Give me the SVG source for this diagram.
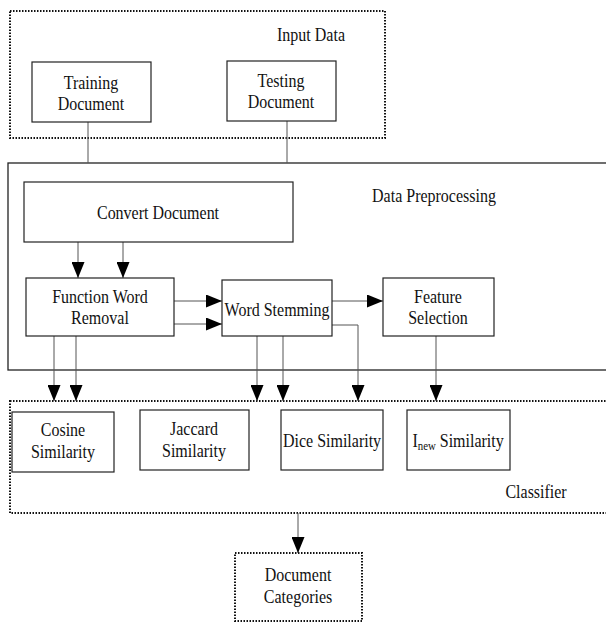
<svg xmlns="http://www.w3.org/2000/svg" width="606" height="623" viewBox="0 0 606 623">
  <style>
    text { font-family: "Liberation Serif", "Times New Roman", serif; font-size: 18.5px; fill: #111; text-anchor: middle; }
    .box { fill: #fff; stroke: #222; stroke-width: 1.2; }
    .frame { fill: none; stroke: #222; stroke-width: 1.3; }
    .dot { fill: none; stroke: #111; stroke-width: 2; stroke-dasharray: 1.5 1.5; }
    .link { fill: none; stroke: #555; stroke-width: 1; }
    .arrow { fill: none; stroke: #555; stroke-width: 1; marker-end: url(#head); }
  </style>
  <defs>
    <marker id="head" markerUnits="userSpaceOnUse" markerWidth="16" markerHeight="13" viewBox="0 0 16 13" refX="16" refY="6.5" orient="auto">
      <path d="M0,0 L16,6.5 L0,13 Z" fill="#000"/>
    </marker>
  </defs>
  <rect width="606" height="623" fill="#fff"/>

  <!-- group frames -->
  <g id="input-data">
    <rect class="dot" x="10" y="11" width="375" height="127"/>
  </g>
  <g id="data-preprocessing">
    <rect class="frame" x="8" y="163" width="604" height="207"/>
  </g>
  <g id="classifier">
    <rect class="dot" x="10" y="401" width="604" height="112"/>
  </g>

  <!-- connectors -->
  <g id="connectors">
    <path class="link" d="M88,122 V163"/>
    <path class="link" d="M287,121 V163"/>
    <path class="arrow" d="M78,242 V278"/>
    <path class="arrow" d="M123,242 V278"/>
    <path class="arrow" d="M174,301 H222"/>
    <path class="arrow" d="M174,324 H222"/>
    <path class="arrow" d="M332,301 H383"/>
    <path class="arrow" d="M332,325 H358 V401"/>
    <path class="arrow" d="M54,336 V401"/>
    <path class="arrow" d="M76,336 V401"/>
    <path class="arrow" d="M257,336 V401"/>
    <path class="arrow" d="M283,336 V401"/>
    <path class="arrow" d="M436,336 V401"/>
    <path class="arrow" d="M298,513 V553"/>
  </g>

  <!-- node boxes -->
  <g id="training-document"><rect class="box" x="32" y="62" width="119" height="60"/></g>
  <g id="testing-document"><rect class="box" x="227" y="61" width="109" height="60"/></g>
  <g id="convert-document"><rect class="box" x="24" y="182" width="269" height="60"/></g>
  <g id="function-word-removal"><rect class="box" x="26" y="278" width="148" height="58"/></g>
  <g id="word-stemming"><rect class="box" x="222" y="280" width="110" height="56"/></g>
  <g id="feature-selection"><rect class="box" x="383" y="278" width="111" height="58"/></g>
  <g id="cosine-similarity"><rect class="box" x="12" y="412" width="102" height="60"/></g>
  <g id="jaccard-similarity"><rect class="box" x="140" y="410" width="109" height="60"/></g>
  <g id="dice-similarity"><rect class="box" x="281" y="410" width="102" height="60"/></g>
  <g id="inew-similarity"><rect class="box" x="407" y="410" width="103" height="60"/></g>
  <g id="document-categories"><rect class="dot" x="235" y="553" width="127" height="68"/></g>

  <!-- labels: tall, narrow serif lettering (x coordinates are in the 0.8649 horizontal scale) -->
  <g id="labels" transform="scale(0.8649,1)">
    <text x="359.6" y="41">Input Data</text>
    <text x="501.8" y="202">Data Preprocessing</text>
    <text x="619.8" y="498">Classifier</text>
    <text x="105.2" y="89">Training</text>
    <text x="105.2" y="110">Document</text>
    <text x="324.9" y="87">Testing</text>
    <text x="324.9" y="108">Document</text>
    <text x="182.7" y="219">Convert Document</text>
    <text x="115.6" y="303">Function Word</text>
    <text x="115.6" y="324">Removal</text>
    <text x="320.3" y="316">Word Stemming</text>
    <text x="506.4" y="303">Feature</text>
    <text x="506.4" y="324">Selection</text>
    <text x="72.8" y="436">Cosine</text>
    <text x="72.8" y="458">Similarity</text>
    <text x="224.3" y="435">Jaccard</text>
    <text x="224.3" y="457">Similarity</text>
    <text x="383.9" y="447">Dice Similarity</text>
    <text x="529.6" y="447">I<tspan font-size="12.5" dy="3">new</tspan><tspan dy="-3"> Similarity</tspan></text>
    <text x="344.6" y="581">Document</text>
    <text x="344.6" y="603">Categories</text>
  </g>
</svg>
